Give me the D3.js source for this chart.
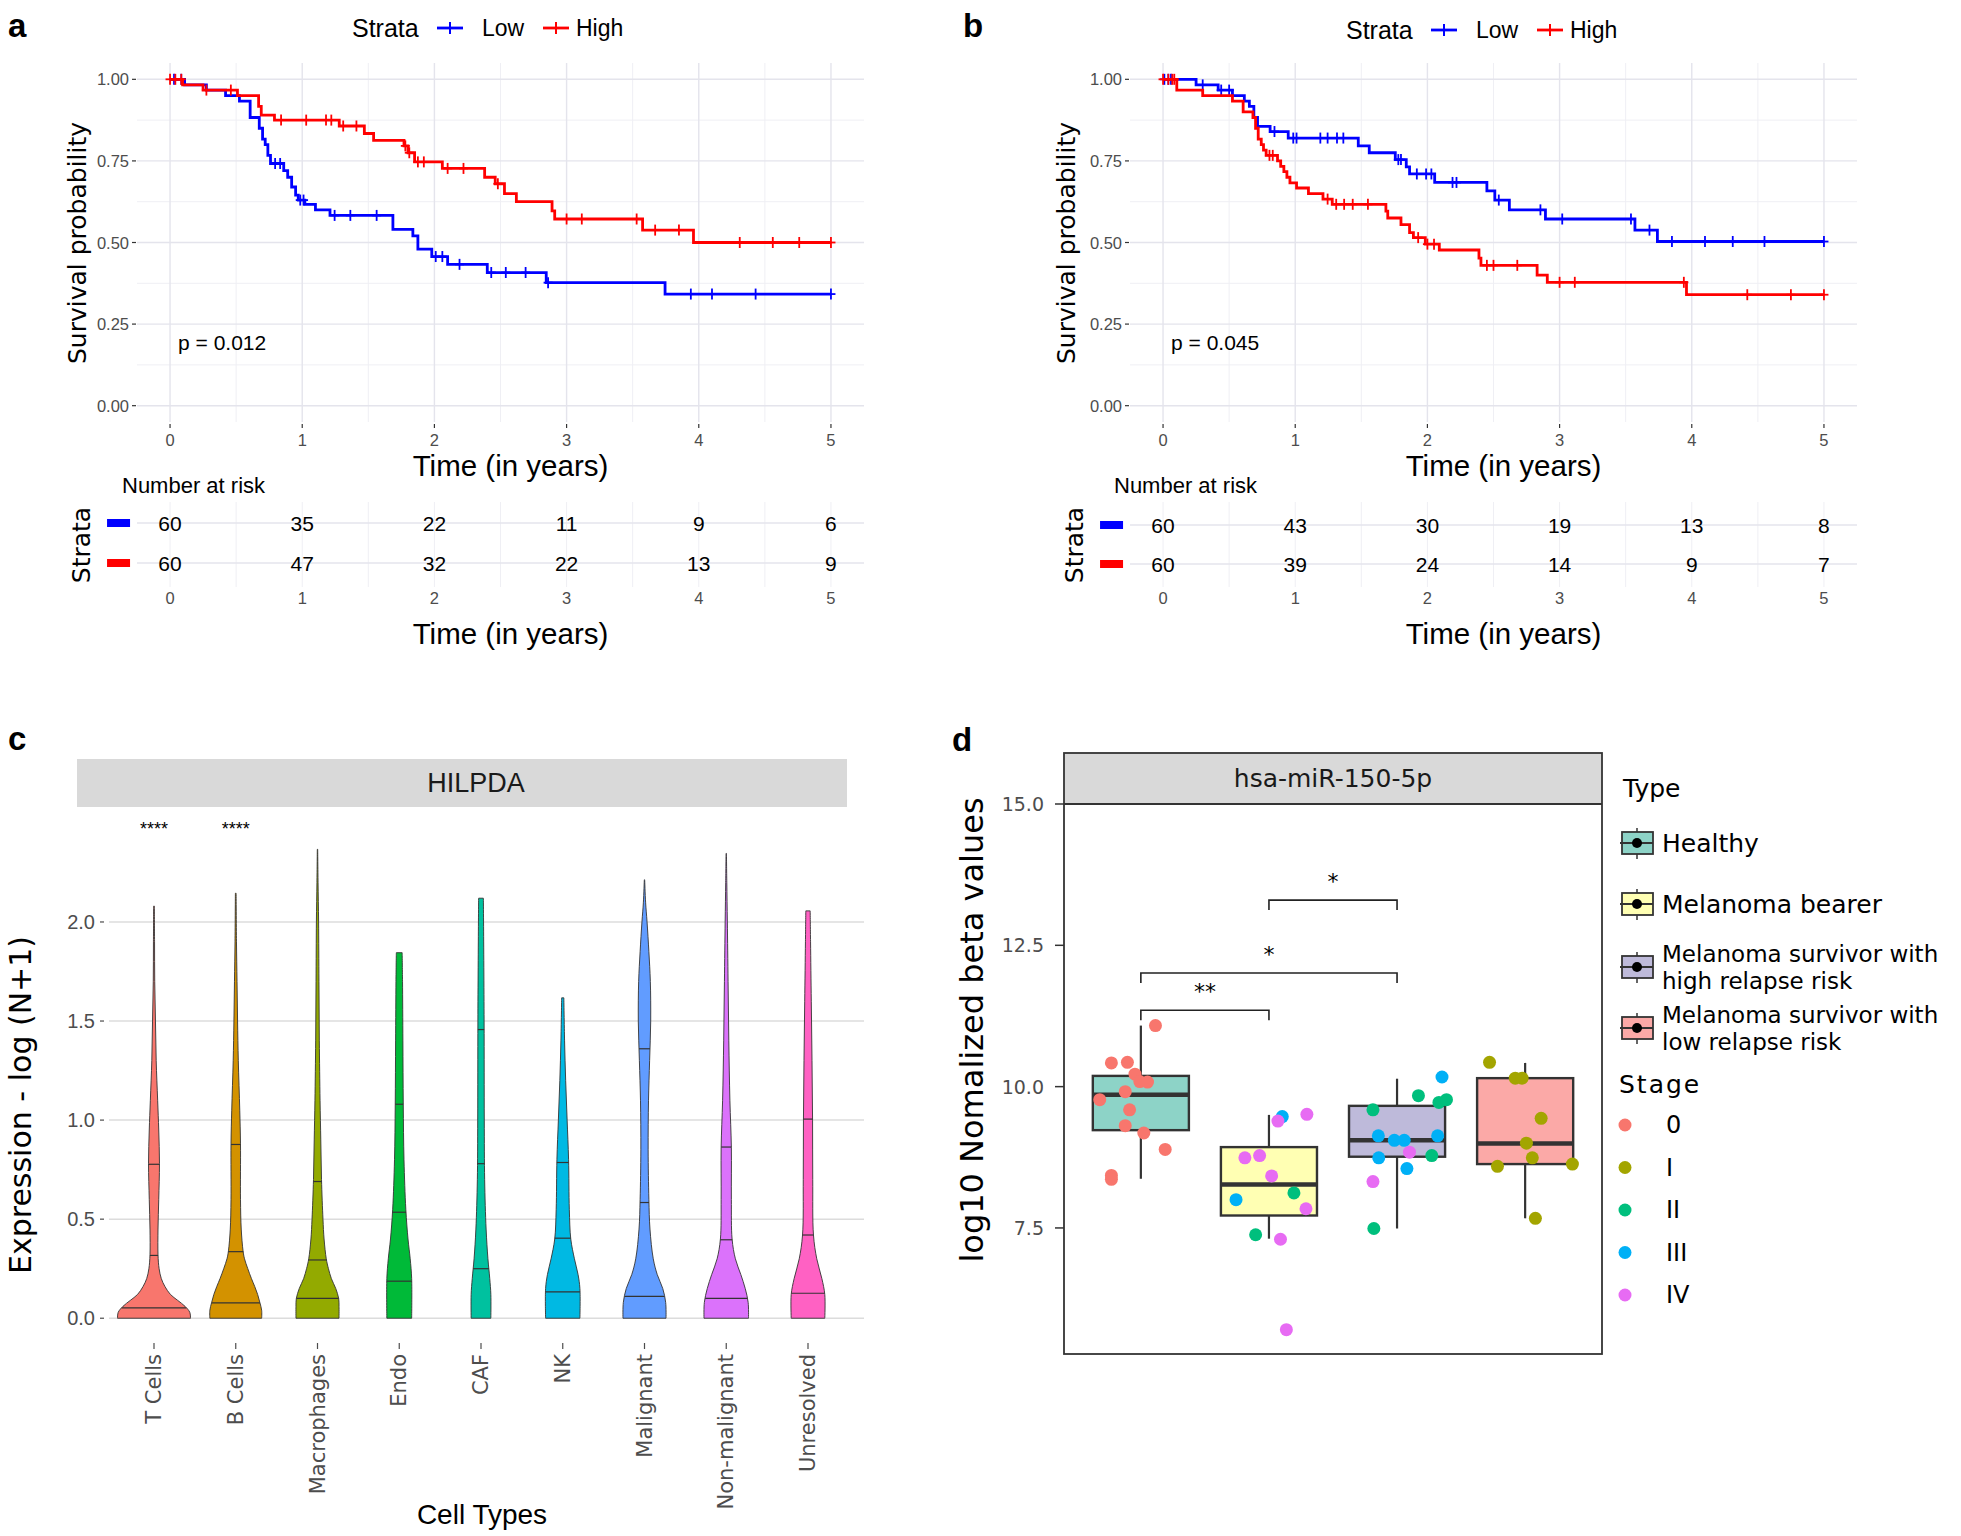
<!DOCTYPE html>
<html><head><meta charset="utf-8">
<script src="https://cdn.jsdelivr.net/npm/d3@7"></script>
<style>body{margin:0;background:#fff}svg{display:block}</style>
</head><body>
<svg id="fig" width="1961" height="1536" xmlns="http://www.w3.org/2000/svg"></svg>
<script>
// ===================== DATA =====================
// Panel a/b : Kaplan-Meier curves (drop times, survival after drop, censor times)
const timeTicks = [0, 1, 2, 3, 4, 5];
const survTicks = [0, 0.25, 0.5, 0.75, 1];
const survTickLabels = ["0.00", "0.25", "0.50", "0.75", "1.00"];
const strataNames = ["Low", "High"];
const strataColors = ["#0000FF", "#FF0000"];

const aLowTimes = [0.11, 0.275, 0.42, 0.525, 0.606, 0.675, 0.70, 0.72, 0.74, 0.76, 0.86, 0.89, 0.92, 0.95, 0.97, 1.02, 1.10, 1.21, 1.686, 1.837, 1.875, 1.98, 2.10, 2.40, 2.846, 3.745];
const aLowSurv = [0.983, 0.967, 0.95, 0.933, 0.883, 0.85, 0.817, 0.80, 0.767, 0.742, 0.72, 0.70, 0.67, 0.645, 0.63, 0.617, 0.60, 0.583, 0.54, 0.52, 0.48, 0.457, 0.433, 0.408, 0.377, 0.342];
const aLowCens = [0.03, 0.085, 0.795, 0.833, 0.985, 1.01, 1.245, 1.364, 1.563, 2.01, 2.06, 2.19, 2.43, 2.54, 2.69, 2.86, 3.94, 4.10, 4.43, 5.0];
const aHighTimes = [0.095, 0.25, 0.51, 0.67, 0.69, 0.79, 1.28, 1.47, 1.54, 1.77, 1.80, 1.85, 2.06, 2.38, 2.46, 2.53, 2.62, 2.89, 2.91, 3.575, 3.96];
const aHighSurv = [0.983, 0.967, 0.95, 0.917, 0.89, 0.875, 0.857, 0.834, 0.813, 0.796, 0.775, 0.747, 0.727, 0.70, 0.68, 0.65, 0.625, 0.597, 0.572, 0.538, 0.50];
const aHighCens = [0.0, 0.04, 0.085, 0.275, 0.46, 0.84, 1.03, 1.18, 1.22, 1.31, 1.41, 1.78, 1.81, 1.875, 1.92, 2.10, 2.22, 2.48, 3.0, 3.115, 3.53, 3.67, 3.85, 4.31, 4.56, 4.76, 5.0];
const aRiskLow = [60, 35, 22, 11, 9, 6];
const aRiskHigh = [60, 47, 32, 22, 13, 9];
const aPValue = "p = 0.012";

const bLowTimes = [0.25, 0.417, 0.525, 0.615, 0.653, 0.687, 0.715, 0.81, 0.947, 1.477, 1.56, 1.757, 1.84, 1.865, 2.055, 2.45, 2.51, 2.62, 2.893, 3.57, 3.74];
const bLowSurv = [0.983, 0.967, 0.95, 0.933, 0.917, 0.883, 0.856, 0.84, 0.82, 0.796, 0.775, 0.754, 0.732, 0.71, 0.684, 0.658, 0.63, 0.60, 0.572, 0.538, 0.503];
const bLowCens = [0.01, 0.04, 0.06, 0.30, 0.44, 0.50, 0.843, 0.985, 1.01, 1.19, 1.245, 1.316, 1.364, 1.78, 1.80, 1.92, 1.99, 2.03, 2.19, 2.22, 2.54, 2.855, 3.02, 3.54, 3.68, 3.85, 4.10, 4.31, 4.55, 5.0];
const bHighTimes = [0.104, 0.30, 0.525, 0.606, 0.68, 0.70, 0.72, 0.743, 0.76, 0.78, 0.866, 0.89, 0.914, 0.937, 0.96, 1.01, 1.10, 1.21, 1.28, 1.686, 1.70, 1.80, 1.865, 1.894, 1.984, 2.09, 2.39, 2.405, 2.83, 2.907, 3.96];
const bHighSurv = [0.967, 0.95, 0.933, 0.90, 0.883, 0.85, 0.817, 0.80, 0.783, 0.767, 0.75, 0.733, 0.717, 0.70, 0.683, 0.667, 0.65, 0.633, 0.617, 0.596, 0.575, 0.555, 0.53, 0.515, 0.495, 0.477, 0.452, 0.43, 0.40, 0.378, 0.34];
const bHighCens = [0.0, 0.04, 0.07, 0.085, 0.805, 0.83, 1.245, 1.31, 1.37, 1.435, 1.55, 1.93, 2.0, 2.05, 2.45, 2.50, 2.68, 3.0, 3.115, 3.94, 4.42, 4.75, 5.0];
const bRiskLow = [60, 43, 30, 19, 13, 8];
const bRiskHigh = [60, 39, 24, 14, 9, 7];
const bPValue = "p = 0.045";

// Panel c : violins (profile = [expression, relative density])
const cellTypes = ["T Cells", "B Cells", "Macrophages", "Endo", "CAF", "NK", "Malignant", "Non-malignant", "Unresolved"];
const cellColors = ["#F8766D", "#D39200", "#93AA00", "#00BA38", "#00C19F", "#00B9E3", "#619CFF", "#DB72FB", "#FF61C3"];
const exprTicks = [0, 0.5, 1.0, 1.5, 2.0];
const violinTCells = [[0,1.0],[0.03,0.98],[0.06,0.85],[0.09,0.65],[0.12,0.45],[0.16,0.3],[0.2,0.2],[0.25,0.14],[0.32,0.11],[0.45,0.11],[0.6,0.13],[0.78,0.15],[0.95,0.13],[1.1,0.1],[1.3,0.06],[1.5,0.04],[1.7,0.02],[1.9,0.015],[2.08,0.01]];
const violinBCells = [[0,0.71],[0.04,0.71],[0.08,0.66],[0.12,0.6],[0.16,0.52],[0.2,0.43],[0.25,0.33],[0.3,0.24],[0.34,0.2],[0.45,0.15],[0.6,0.13],[0.88,0.13],[1.05,0.11],[1.3,0.07],[1.5,0.05],[1.7,0.035],[1.9,0.02],[2.145,0.01]];
const violinMacro = [[0,0.59],[0.06,0.59],[0.1,0.58],[0.15,0.5],[0.2,0.38],[0.25,0.3],[0.3,0.24],[0.4,0.18],[0.5,0.15],[0.7,0.11],[0.9,0.09],[1.1,0.07],[1.4,0.05],[1.7,0.04],[2.0,0.03],[2.2,0.015],[2.367,0.005]];
const violinEndo = [[0,0.34],[0.2,0.34],[0.3,0.3],[0.4,0.24],[0.55,0.18],[0.8,0.13],[1.08,0.11],[1.4,0.1],[1.7,0.09],[1.845,0.08]];
const violinCAF = [[0,0.27],[0.12,0.27],[0.2,0.24],[0.3,0.19],[0.45,0.14],[0.7,0.1],[1.0,0.09],[1.5,0.085],[2.0,0.07],[2.12,0.065]];
const violinNK = [[0,0.47],[0.15,0.47],[0.22,0.42],[0.3,0.32],[0.4,0.22],[0.55,0.18],[0.8,0.16],[1.0,0.12],[1.2,0.08],[1.4,0.05],[1.617,0.03]];
const violinMalig = [[0,0.59],[0.08,0.58],[0.15,0.5],[0.22,0.35],[0.3,0.24],[0.45,0.15],[0.6,0.12],[0.85,0.1],[1.1,0.11],[1.3,0.14],[1.5,0.17],[1.7,0.16],[1.85,0.12],[2.0,0.07],[2.1,0.03],[2.213,0.005]];
const violinNonMalig = [[0,0.61],[0.08,0.6],[0.15,0.52],[0.22,0.4],[0.3,0.25],[0.4,0.16],[0.6,0.14],[0.86,0.14],[1.1,0.1],[1.4,0.07],[1.7,0.05],[2.0,0.03],[2.2,0.015],[2.346,0.005]];
const violinUnres = [[0,0.46],[0.12,0.46],[0.2,0.38],[0.3,0.24],[0.42,0.15],[0.7,0.13],[1.0,0.125],[1.3,0.11],[1.6,0.09],[1.9,0.07],[2.056,0.06]];
const violinQ25 = [0.052, 0.077, 0.10, 0.187, 0.25, 0.133, 0.11, 0.10, 0.126];
const violinQ50 = [0.317, 0.336, 0.294, 0.535, 0.78, 0.404, 0.584, 0.396, 0.42];
const violinQ75 = [0.777, 0.877, 0.69, 1.08, 1.457, 0.786, 1.36, 0.864, 1.005];
const cellSignif = ["****", "****", "", "", "", "", "", "", ""];

// Panel d : box plots
const typeNames = ["Healthy", "Melanoma bearer", "Melanoma survivor with high relapse risk", "Melanoma survivor with low relapse risk"];
const typeLegendLines = [["Healthy"], ["Melanoma bearer"], ["Melanoma survivor with", "high relapse risk"], ["Melanoma survivor with", "low relapse risk"]];
const typeColors = ["#8DD3C7", "#FFFFB3", "#BEBADA", "#FBA9A7"];
const boxLower = [8.37, 7.31, 7.49, 7.67];
const boxQ1 = [9.23, 7.72, 8.76, 8.63];
const boxMedian = [9.855, 8.27, 9.05, 8.995];
const boxQ3 = [10.19, 8.93, 9.66, 10.15];
const boxUpper = [11.08, 9.50, 10.14, 10.42];
const betaTicks = [7.5, 10.0, 12.5, 15.0];
const stageNames = ["0", "I", "II", "III", "IV"];
const stageColors = ["#F8766D", "#A3A500", "#00BF7D", "#00B0F6", "#E76BF3"];
const pointType =   [0,0,0,0,0,0,0,0,0,0,0,0,0,0, 1,1,1,1,1,1,1,1,1,1,1,1, 2,2,2,2,2,2,2,2,2,2,2,2,2,2,2, 3,3,3,3,3,3,3,3,3];
const pointStage =  [0,0,0,0,0,0,0,0,0,0,0,0,0,0, 3,4,4,4,4,4,3,2,4,2,4,4, 3,2,2,2,2,3,3,3,3,4,3,2,3,4,2, 1,1,1,1,1,1,1,1,1];
const pointValue =  [10.42,10.43,11.08,10.22,10.09,10.08,9.91,9.77,9.59,9.31,9.18,8.89,8.43,8.36,
                     9.47,9.39,9.51,8.74,8.78,8.42,8.00,8.12,7.84,7.38,7.30,5.70,
                     10.17,9.84,9.72,9.77,9.59,9.13,9.05,9.05,9.13,8.84,8.74,8.78,8.55,8.32,7.49,
                     10.43,10.15,10.15,9.44,9.00,8.59,8.74,8.63,7.67];
const pointJitter = [-0.23,-0.105,0.114,-0.046,-0.008,0.052,-0.122,-0.321,-0.088,-0.122,0.023,0.19,-0.23,-0.23,
                     0.104,0.07,0.296,-0.188,-0.073,0.021,-0.257,0.195,0.289,-0.104,0.09,0.136,
                     0.351,0.167,0.327,0.386,-0.188,-0.146,-0.021,0.056,0.317,0.097,-0.143,0.271,0.077,-0.188,-0.181,
                     -0.278,-0.077,-0.024,0.125,0.01,-0.216,0.056,0.369,0.08];
const compFrom = [1, 1, 2];
const compTo = [2, 3, 3];
const compLabel = ["**", "*", "*"];
const compLevel = [11.35, 12.01, 13.30];

// ===================== DRAWING =====================
const svg = d3.select("#fig");
const SANS = "'Liberation Sans', Arial, Helvetica, sans-serif";
const DJV = "'DejaVu Sans', Verdana, sans-serif";
const gridMajor = "#E4E4EC", gridMinor = "#EFEFF4";

function txt(g, x, y, s, size, opts = {}) {
  return g.append("text").attr("x", x).attr("y", y).text(s)
    .attr("font-family", opts.family || SANS).attr("font-size", size)
    .attr("fill", opts.fill || "#000")
    .attr("text-anchor", opts.anchor || "start")
    .attr("dominant-baseline", opts.baseline || "central")
    .attr("font-weight", opts.weight || "normal");
}

function survAt(times, surv, t) {
  let s = 1;
  for (let i = 0; i < times.length; i++) if (times[i] <= t) s = surv[i];
  return s;
}

function kmPanel(cfg) {
  const g = svg.append("g");
  const ox = cfg.ox;
  const x = d3.scaleLinear().domain([-0.25, 5.25]).range([137 + ox, 864 + ox]);
  const y = d3.scaleLinear().domain([-0.05, 1.05]).range([422, 63]);
  const xMinor = d3.range(0.5, 5, 1);
  const yMinor = [0.125, 0.375, 0.625, 0.875];
  // grid
  g.selectAll(null).data(xMinor).join("line").attr("x1", d => x(d)).attr("x2", d => x(d)).attr("y1", 63).attr("y2", 422).attr("stroke", gridMinor).attr("stroke-width", 1);
  g.selectAll(null).data(yMinor).join("line").attr("y1", d => y(d)).attr("y2", d => y(d)).attr("x1", x.range()[0]).attr("x2", x.range()[1]).attr("stroke", gridMinor).attr("stroke-width", 1);
  g.selectAll(null).data(timeTicks).join("line").attr("x1", d => x(d)).attr("x2", d => x(d)).attr("y1", 63).attr("y2", 422).attr("stroke", gridMajor).attr("stroke-width", 1.4);
  g.selectAll(null).data(survTicks).join("line").attr("y1", d => y(d)).attr("y2", d => y(d)).attr("x1", x.range()[0]).attr("x2", x.range()[1]).attr("stroke", gridMajor).attr("stroke-width", 1.4);
  // axes ticks / labels
  g.selectAll(null).data(survTicks).join("line").attr("y1", d => y(d)).attr("y2", d => y(d)).attr("x1", 132 + ox).attr("x2", 136 + ox).attr("stroke", "#333").attr("stroke-width", 1.2);
  survTicks.forEach((d, i) => txt(g, 129 + ox, y(d), survTickLabels[i], 16.5, { anchor: "end", fill: "#4D4D4D" }));
  g.selectAll(null).data(timeTicks).join("line").attr("x1", d => x(d)).attr("x2", d => x(d)).attr("y1", 424).attr("y2", 428).attr("stroke", "#333").attr("stroke-width", 1.2);
  timeTicks.forEach(d => txt(g, x(d), 440, String(d), 16.5, { anchor: "middle", fill: "#4D4D4D" }));
  // titles
  txt(g, x(2.5) + 10, cfg.titleY, "Time (in years)", 29.5, { anchor: "middle" });
  g.append("text").attr("transform", `translate(${cfg.ylabX},243) rotate(-90)`).text("Survival probability")
    .attr("font-family", DJV).attr("font-size", 25).attr("text-anchor", "middle").attr("dominant-baseline", "central");
  txt(g, x(0) + 8, 342, cfg.p, 21);
  // curves
  cfg.curves.forEach((c, ci) => {
    const pts = [[0, 1]];
    let s = 1;
    c.times.forEach((t, i) => { pts.push([t, s]); s = c.surv[i]; pts.push([t, s]); });
    pts.push([5, s]);
    g.append("path").attr("d", d3.line().x(d => x(d[0])).y(d => y(d[1]))(pts))
      .attr("fill", "none").attr("stroke", strataColors[ci]).attr("stroke-width", 2.8);
    const cg = g.append("g").attr("stroke", strataColors[ci]).attr("stroke-width", 1.8);
    c.cens.forEach(t => {
      const cx = x(t), cy = y(survAt(c.times, c.surv, t));
      cg.append("line").attr("x1", cx).attr("x2", cx).attr("y1", cy - 5.5).attr("y2", cy + 5.5);
      cg.append("line").attr("x1", cx - 4.5).attr("x2", cx + 4.5).attr("y1", cy).attr("y2", cy);
    });
  });
  // legend
  const ly = cfg.legY;
  txt(g, cfg.legX, ly, "Strata", 25);
  const keyX = [cfg.legX + 85, cfg.legX + 191];
  strataNames.forEach((n, i) => {
    g.append("line").attr("x1", keyX[i]).attr("x2", keyX[i] + 26).attr("y1", ly).attr("y2", ly).attr("stroke", strataColors[i]).attr("stroke-width", 2.8);
    g.append("line").attr("x1", keyX[i] + 13).attr("x2", keyX[i] + 13).attr("y1", ly - 6).attr("y2", ly + 6).attr("stroke", strataColors[i]).attr("stroke-width", 2);
    txt(g, keyX[i] + (i === 0 ? 45 : 33), ly, n, 23);
  });
  // risk table
  const rows = cfg.riskRows;
  g.selectAll(null).data(xMinor.concat(timeTicks)).join("line").attr("x1", d => x(d)).attr("x2", d => x(d)).attr("y1", 502).attr("y2", 587).attr("stroke", gridMinor).attr("stroke-width", 1);
  rows.forEach(ry => g.append("line").attr("x1", x.range()[0]).attr("x2", x.range()[1]).attr("y1", ry).attr("y2", ry).attr("stroke", gridMajor).attr("stroke-width", 1.4));
  txt(g, cfg.narX, 485, "Number at risk", 22);
  cfg.risk.forEach((arr, ri) => {
    arr.forEach((v, i) => txt(g, x(timeTicks[i]), rows[ri], String(v), 21, { anchor: "middle" }));
    g.append("rect").attr("x", x(0) - 63).attr("y", rows[ri] - 4).attr("width", 23).attr("height", 8).attr("fill", strataColors[ri]);
  });
  timeTicks.forEach(d => txt(g, x(d), 598, String(d), 16.5, { anchor: "middle", fill: "#4D4D4D" }));
  txt(g, x(2.5) + 10, 633, "Time (in years)", 29.5, { anchor: "middle" });
  g.append("text").attr("transform", `translate(${x(0) - 89},545) rotate(-90)`).text("Strata")
    .attr("font-family", DJV).attr("font-size", 25).attr("text-anchor", "middle").attr("dominant-baseline", "central");
}

kmPanel({ ox: 0, titleY: 465, ylabX: 77, p: aPValue, legX: 352, legY: 28, narX: 122, riskRows: [523, 563],
  risk: [aRiskLow, aRiskHigh],
  curves: [{ times: aLowTimes, surv: aLowSurv, cens: aLowCens }, { times: aHighTimes, surv: aHighSurv, cens: aHighCens }] });
kmPanel({ ox: 993, titleY: 465, ylabX: 1066, p: bPValue, legX: 1346, legY: 30, narX: 1114, riskRows: [525, 564],
  risk: [bRiskLow, bRiskHigh],
  curves: [{ times: bLowTimes, surv: bLowSurv, cens: bLowCens }, { times: bHighTimes, surv: bHighSurv, cens: bHighCens }] });

// panel letters
txt(svg, 8, 37, "a", 33, { weight: "bold", baseline: "alphabetic" });
txt(svg, 963, 37, "b", 33, { weight: "bold", baseline: "alphabetic" });
txt(svg, 8, 750, "c", 33, { weight: "bold", baseline: "alphabetic" });
txt(svg, 952, 751, "d", 33, { weight: "bold", baseline: "alphabetic" });

// ---------- Panel c ----------
(function () {
  const g = svg.append("g");
  const x = d3.scalePoint().domain(cellTypes).range([154, 808]);
  const y = d3.scaleLinear().domain([-0.12, 2.55]).range([1342, 813]);
  const w = d3.scaleLinear().domain([0, 1]).range([0, 36.5]);
  const profiles = [violinTCells, violinBCells, violinMacro, violinEndo, violinCAF, violinNK, violinMalig, violinNonMalig, violinUnres];
  // strip
  g.append("rect").attr("x", 77).attr("y", 759).attr("width", 770).attr("height", 48).attr("fill", "#D9D9D9");
  txt(g, 476, 783, "HILPDA", 27, { anchor: "middle", fill: "#1A1A1A" });
  // grid
  g.selectAll(null).data(exprTicks).join("line").attr("x1", 109).attr("x2", 864).attr("y1", d => y(d)).attr("y2", d => y(d)).attr("stroke", "#DCDCDC").attr("stroke-width", 1.5);
  exprTicks.forEach(d => {
    txt(g, 95, y(d), d.toFixed(1), 20, { anchor: "end", fill: "#4D4D4D" });
    g.append("line").attr("x1", 100).attr("x2", 104).attr("y1", y(d)).attr("y2", y(d)).attr("stroke", "#4D4D4D").attr("stroke-width", 1.2);
  });
  const area = d3.area().curve(d3.curveCatmullRom.alpha(0.5));
  cellTypes.forEach((c, i) => {
    const cx = x(c), prof = profiles[i];
    area.y(d => y(d[0])).x0(d => cx - w(d[1])).x1(d => cx + w(d[1]));
    g.append("path").attr("d", area(prof)).attr("fill", cellColors[i]).attr("stroke", "#333").attr("stroke-width", 0.9);
    const interp = v => {
      for (let k = 1; k < prof.length; k++) if (v <= prof[k][0]) {
        const t = (v - prof[k - 1][0]) / (prof[k][0] - prof[k - 1][0]);
        return prof[k - 1][1] + t * (prof[k][1] - prof[k - 1][1]);
      }
      return prof[prof.length - 1][1];
    };
    [violinQ25[i], violinQ50[i], violinQ75[i]].forEach(q => {
      g.append("line").attr("x1", cx - w(interp(q))).attr("x2", cx + w(interp(q))).attr("y1", y(q)).attr("y2", y(q)).attr("stroke", "#333").attr("stroke-width", 1.2);
    });
    if (cellSignif[i]) txt(g, cx, 835, cellSignif[i], 18, { anchor: "middle", baseline: "alphabetic" });
    g.append("line").attr("x1", cx).attr("x2", cx).attr("y1", 1343).attr("y2", 1349).attr("stroke", "#4D4D4D").attr("stroke-width", 1.2);
    g.append("text").attr("transform", `translate(${cx},1354) rotate(-90)`).text(c)
      .attr("font-family", DJV).attr("font-size", 21).attr("fill", "#4D4D4D")
      .attr("text-anchor", "end").attr("dominant-baseline", "central");
  });
  g.append("text").attr("transform", "translate(20,1105) rotate(-90)").text("Expression - log (N+1)")
    .attr("font-family", DJV).attr("font-size", 30).attr("text-anchor", "middle").attr("dominant-baseline", "central");
  txt(g, 482, 1514, "Cell Types", 28, { anchor: "middle" });
})();

// ---------- Panel d ----------
(function () {
  const g = svg.append("g");
  const x = d3.scaleLinear().domain([0.4, 4.6]).range([1064, 1602]);
  const y = d3.scaleLinear().domain([5.27, 15]).range([1354, 804]);
  const bw = (x(1.375) - x(1)); // half box width (0.75 total)
  // strip
  g.append("rect").attr("x", 1064).attr("y", 753).attr("width", 538).attr("height", 51).attr("fill", "#D9D9D9");
  txt(g, 1333, 778, "hsa-miR-150-5p", 25, { anchor: "middle", family: DJV, fill: "#1A1A1A" });
  // axis
  betaTicks.forEach(d => {
    txt(g, 1044, y(d), d.toFixed(1), 19, { anchor: "end", family: DJV, fill: "#4D4D4D" });
    g.append("line").attr("x1", 1055).attr("x2", 1064).attr("y1", y(d)).attr("y2", y(d)).attr("stroke", "#333").attr("stroke-width", 1.5);
  });
  g.append("text").attr("transform", "translate(972,1030) rotate(-90)").text("log10 Nomalized beta values")
    .attr("font-family", DJV).attr("font-size", 32).attr("text-anchor", "middle").attr("dominant-baseline", "central");
  // boxes
  typeNames.forEach((t, i) => {
    const cx = x(i + 1);
    g.append("line").attr("x1", cx).attr("x2", cx).attr("y1", y(boxUpper[i])).attr("y2", y(boxQ3[i])).attr("stroke", "#333").attr("stroke-width", 2.2);
    g.append("line").attr("x1", cx).attr("x2", cx).attr("y1", y(boxQ1[i])).attr("y2", y(boxLower[i])).attr("stroke", "#333").attr("stroke-width", 2.2);
    g.append("rect").attr("x", cx - bw).attr("width", 2 * bw).attr("y", y(boxQ3[i])).attr("height", y(boxQ1[i]) - y(boxQ3[i]))
      .attr("fill", typeColors[i]).attr("stroke", "#333").attr("stroke-width", 2.4);
    g.append("line").attr("x1", cx - bw).attr("x2", cx + bw).attr("y1", y(boxMedian[i])).attr("y2", y(boxMedian[i])).attr("stroke", "#333").attr("stroke-width", 4.5);
  });
  // points
  g.selectAll(null).data(pointValue).join("circle")
    .attr("cx", (d, i) => x(pointType[i] + 1 + pointJitter[i]))
    .attr("cy", d => y(d)).attr("r", 6.5)
    .attr("fill", (d, i) => stageColors[pointStage[i]]);
  // significance brackets
  compLabel.forEach((lab, i) => {
    const x1 = x(compFrom[i]), x2 = x(compTo[i]), yy = y(compLevel[i]);
    g.append("path").attr("d", `M${x1},${yy + 10}V${yy}H${x2}V${yy + 10}`).attr("fill", "none").attr("stroke", "#222").attr("stroke-width", 1.6);
    txt(g, (x1 + x2) / 2, yy - 11, lab, 22, { anchor: "middle", family: DJV, baseline: "alphabetic" });
  });
  // panel border
  g.append("line").attr("x1", 1064).attr("x2", 1602).attr("y1", 804).attr("y2", 804).attr("stroke", "#333").attr("stroke-width", 1.8);
  g.append("rect").attr("x", 1064).attr("y", 753).attr("width", 538).attr("height", 601).attr("fill", "none").attr("stroke", "#333").attr("stroke-width", 1.8);

  // legend
  txt(g, 1623, 788, "Type", 25, { family: DJV });
  const keyY = [843, 904, 967, 1028];
  typeNames.forEach((t, i) => {
    const ky = keyY[i];
    g.append("line").attr("x1", 1637).attr("x2", 1637).attr("y1", ky - 15).attr("y2", ky + 16).attr("stroke", "#333").attr("stroke-width", 1.5);
    g.append("rect").attr("x", 1622).attr("y", ky - 11).attr("width", 31).attr("height", 22).attr("fill", typeColors[i]).attr("stroke", "#333").attr("stroke-width", 1.8);
    g.append("line").attr("x1", 1620).attr("x2", 1653).attr("y1", ky).attr("y2", ky).attr("stroke", "#333").attr("stroke-width", 1.8);
    g.append("circle").attr("cx", 1637).attr("cy", ky).attr("r", 5).attr("fill", "#000");
    const lines = typeLegendLines[i];
    const fs = lines.length > 1 ? 23 : 25;
    lines.forEach((l, k) => txt(g, 1662, ky + (k - (lines.length - 1) / 2) * 27, l, fs, { family: DJV }));
  });
  txt(g, 1619, 1084, "Stage", 25, { family: DJV }).attr("letter-spacing", 2);
  stageNames.forEach((s, i) => {
    const sy = 1125 + i * 42.5;
    g.append("circle").attr("cx", 1625).attr("cy", sy).attr("r", 6.5).attr("fill", stageColors[i]);
    txt(g, 1666, sy, s, 24, { family: DJV });
  });
})();
</script>
</body></html>
